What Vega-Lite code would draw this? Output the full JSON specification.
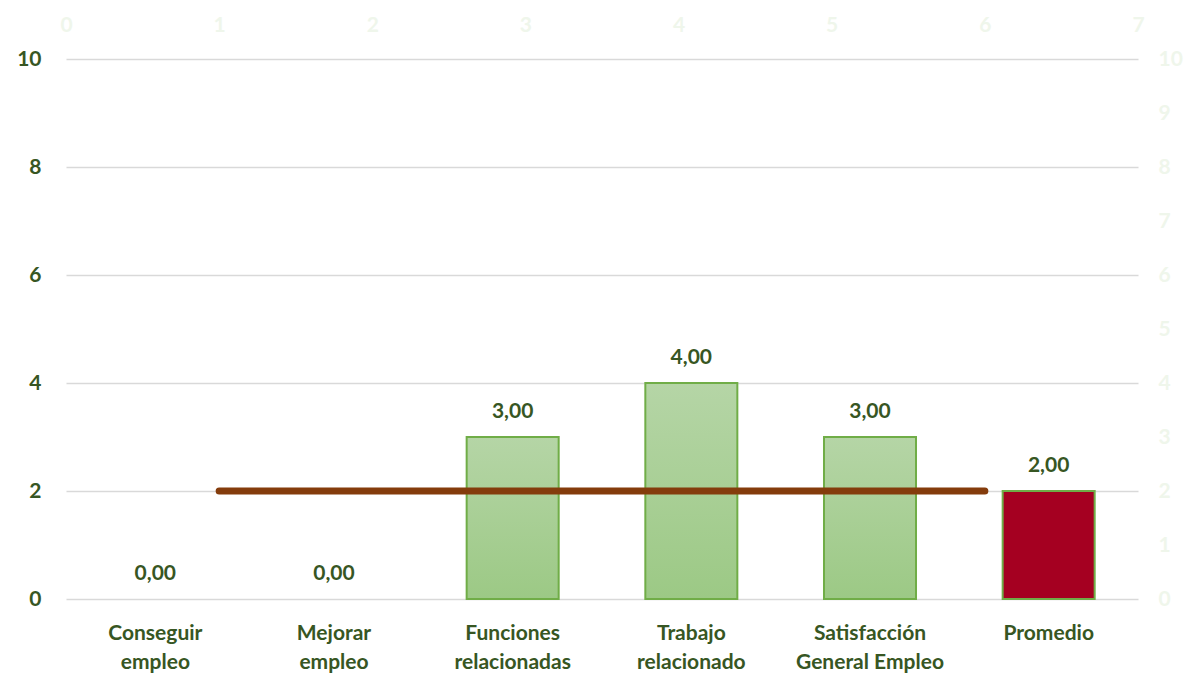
{
  "$schema": "https://vega.github.io/schema/vega-lite/v6.json",
  "width": 1072,
  "height": 540,
  "autosize": {"type": "none"},
  "padding": {"left": 66, "top": 59, "right": 54, "bottom": 83},
  "background": "white",
  "config": {
    "view": {"stroke": null},
    "font": "Lato",
    "locale": {"number": {"decimal": ",", "thousands": ".", "grouping": [3], "currency": ["", "€"]}}
  },
  "datasets": {
    "barras": [
      {"categoria": "Conseguir empleo", "valor": 0, "tipo": "item"},
      {"categoria": "Mejorar empleo", "valor": 0, "tipo": "item"},
      {"categoria": "Funciones relacionadas", "valor": 3, "tipo": "item"},
      {"categoria": "Trabajo relacionado", "valor": 4, "tipo": "item"},
      {"categoria": "Satisfacción General Empleo", "valor": 3, "tipo": "item"},
      {"categoria": "Promedio", "valor": 2, "tipo": "promedio"}
    ],
    "linea": [
      {"x": 1, "y": 2},
      {"x": 6, "y": 2}
    ]
  },
  "layer": [
    {
      "data": {"name": "barras"},
      "encoding": {
        "x": {
          "field": "categoria",
          "type": "nominal",
          "sort": ["Conseguir empleo", "Mejorar empleo", "Funciones relacionadas", "Trabajo relacionado", "Satisfacción General Empleo", "Promedio"],
          "scale": {
            "domain": ["Conseguir empleo", "Mejorar empleo", "Funciones relacionadas", "Trabajo relacionado", "Satisfacción General Empleo", "Promedio"],
            "paddingInner": 0.485,
            "paddingOuter": 0.2425
          },
          "axis": {
            "title": null,
            "orient": "bottom",
            "domain": false,
            "ticks": false,
            "labelAngle": 0,
            "labelFont": "Lato",
            "labelFontSize": 21,
            "labelFontWeight": "bold",
            "labelColor": "#375623",
            "labelPadding": 23,
            "labelLineHeight": 29,
            "labelExpr": "indexof(datum.value, ' ') < 0 ? datum.value : [slice(datum.value, 0, indexof(datum.value, ' ')), slice(datum.value, indexof(datum.value, ' ') + 1)]"
          }
        },
        "y": {
          "field": "valor",
          "type": "quantitative",
          "scale": {"domain": [0, 10], "nice": false},
          "axis": {
            "title": null,
            "values": [0, 2, 4, 6, 8, 10],
            "domain": false,
            "ticks": false,
            "grid": true,
            "gridColor": "#D9D9D9",
            "gridWidth": 1.5,
            "labelFont": "Lato",
            "labelFontSize": 21,
            "labelFontWeight": "bold",
            "labelColor": "#375623",
            "labelPadding": 25
          }
        }
      },
      "layer": [
        {
          "transform": [{"filter": "datum.tipo == 'item' && datum.valor > 0"}],
          "mark": {
            "type": "bar",
            "stroke": "#70AD47",
            "strokeWidth": 2,
            "color": {
              "gradient": "linear",
              "x1": 0, "y1": 0, "x2": 0, "y2": 1,
              "stops": [
                {"offset": 0, "color": "#B5D5A6"},
                {"offset": 1, "color": "#9CC985"}
              ]
            }
          }
        },
        {
          "transform": [{"filter": "datum.tipo == 'promedio'"}],
          "mark": {"type": "bar", "color": "#A50021", "stroke": "#70AD47", "strokeWidth": 2}
        },
        {
          "mark": {
            "type": "text",
            "baseline": "alphabetic",
            "align": "center",
            "dy": -19,
            "font": "Lato",
            "fontSize": 21,
            "fontWeight": "bold",
            "color": "#375623"
          },
          "encoding": {
            "text": {"field": "valor", "type": "quantitative", "format": ".2f"}
          }
        }
      ]
    },
    {
      "data": {"name": "linea"},
      "mark": {"type": "line", "color": "#843C0C", "strokeWidth": 7, "strokeCap": "round"},
      "encoding": {
        "x": {
          "field": "x",
          "type": "quantitative",
          "scale": {"domain": [0, 7], "nice": false},
          "axis": {
            "title": null,
            "orient": "top",
            "values": [0, 1, 2, 3, 4, 5, 6, 7],
            "domain": false,
            "ticks": false,
            "grid": false,
            "labelFont": "Lato",
            "labelFontSize": 21,
            "labelFontWeight": "bold",
            "labelColor": "#EFF6EB",
            "labelPadding": 24,
            "labelFlush": false
          }
        },
        "y": {
          "field": "y",
          "type": "quantitative",
          "scale": {"domain": [0, 10], "nice": false},
          "axis": {
            "title": null,
            "orient": "right",
            "values": [0, 1, 2, 3, 4, 5, 6, 7, 8, 9, 10],
            "domain": false,
            "ticks": false,
            "grid": false,
            "labelFont": "Lato",
            "labelFontSize": 21,
            "labelFontWeight": "bold",
            "labelColor": "#EFF6EB",
            "labelPadding": 20
          }
        }
      }
    }
  ],
  "resolve": {"scale": {"x": "independent", "y": "independent"}}
}
